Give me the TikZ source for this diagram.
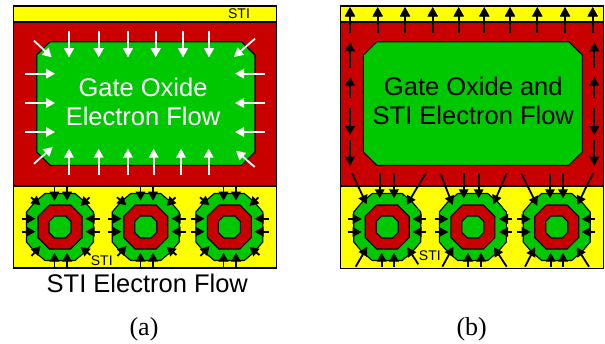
\documentclass[tikz,border=0pt]{standalone}
\usepackage{fontspec}
\setmainfont{Liberation Sans}
\newfontfamily\capfont{Liberation Serif}
\usetikzlibrary{arrows.meta}
\definecolor{GateRed}{HTML}{C80000}
\definecolor{OxideGreen}{HTML}{00C800}
\definecolor{StiYellow}{HTML}{FFFF00}
% one ring cell: green outer, red ring, green core
\newcommand{\ringcell}[2]{
	\begin{scope}[shift={(#1,#2)}]
		\draw[part, fill=OxideGreen] (-15,-33.5) -- (15,-33.5) -- (25,-25) -- (33.5,-15) -- (33.5,15) -- (25,25) -- (15,33.5) -- (-15,33.5) -- (-25,25) -- (-33.5,15) -- (-33.5,-15) -- (-25,-25) -- cycle;
		\draw[part, fill=GateRed] (-10.5,-22) -- (10.5,-22) -- (22,-10.5) -- (22,10.5) -- (10.5,22) -- (-10.5,22) -- (-22,10.5) -- (-22,-10.5) -- cycle;
		\draw[part, fill=OxideGreen] (-5.5,-11) -- (5.5,-11) -- (11,-5.5) -- (11,5.5) -- (5.5,11) -- (-5.5,11) -- (-11,5.5) -- (-11,-5.5) -- cycle;
	\end{scope}
}
% gate area with cut corners
\newcommand{\gatearea}[2]{
	\draw[part, fill=OxideGreen] (#1+13.5,41.7) -- (#2-13.5,41.7) -- (#2,55) -- (#2,152) -- (#2-13.5,165.3) -- (#1+13.5,165.3) -- (#1,152) -- (#1,55) -- cycle;
}
\begin{document}
\begin{tikzpicture}[
		x=1pt, y=-1pt,
		part/.style={draw=black, line width=1.1pt, line join=miter},
		flow/.style={-{Triangle[length=9pt,width=9.5pt]}, line width=1.8pt, draw=black},
		whiteflow/.style={flow, draw=white},
		blackflow/.style={flow},
		sti/.style={font=\fontsize{14}{14}\selectfont, anchor=base, inner sep=0pt},
		bigtext/.style={font=\fontsize{25.5}{29.7}\selectfont, align=center, inner sep=0pt},
		caption/.style={font=\capfont\fontsize{26}{26}\selectfont, anchor=base, inner sep=0pt}
	]
	\useasboundingbox (0,0) rectangle (605,343);
	% panel a
	\draw[part, fill=StiYellow] (13.5,186) rectangle (276.5,268);
	\draw[part, fill=StiYellow] (13.5,6) rectangle (276.5,22);
	\draw[part, fill=GateRed] (13.5,22) rectangle (276.5,186);
	\gatearea{36.7}{255}
	\foreach \cx in {60,145.7,229.3}
		\ringcell{\cx}{227}
	\foreach \px in {69,98.7,128,155.7,183,209}
		\draw[whiteflow] (\px,31) -- (\px,57);
	\foreach \px in {69,98.7,128,153.7,181,208.7}
		\draw[whiteflow] (\px,175) -- (\px,148.7);
	\foreach \py in {73.7,103,132} {
		\draw[whiteflow] (25,\py) -- (55,\py);
		\draw[whiteflow] (265,\py) -- (235,\py);
	}
	\draw[whiteflow] (34,40.7) -- (51.7,57.3);
	\draw[whiteflow] (255,38.7) -- (234,57);
	\draw[whiteflow] (34,163.7) -- (52.7,147);
	\draw[whiteflow] (254.7,167) -- (236,150.7);
	% arrows round the cells of panel a
	\foreach \cx in {60.5,146.5,229.5} {
		\foreach \dx in {-6,6.5} {
			\draw[blackflow] (\cx+\dx,187.3) -- (\cx+\dx,200.7);
			\draw[blackflow] (\cx+\dx,266.7) -- (\cx+\dx,252.7);
		}
		\foreach \py in {218.7,231.7} {
			\draw[blackflow] (\cx-39,\py) -- (\cx-25,\py);
			\draw[blackflow] (\cx+39,\py) -- (\cx+25,\py);
		}
		\draw[blackflow] (\cx-29.5,197.3) -- (\cx-20,205.3);
		\draw[blackflow] (\cx+29,197.3) -- (\cx+20,206);
		\draw[blackflow] (\cx-29,256) -- (\cx-20,246);
		\draw[blackflow] (\cx+30,255) -- (\cx+20,247);
	}
	\node[bigtext, text=white] (gateflow) at (143,102) {Gate Oxide\\Electron Flow};
	\node[sti] (stitop) at (239,18.7) {STI};
	\node[sti] (stilow) at (101.8,265) {STI};
	\node[font=\fontsize{25.5}{25.5}\selectfont, anchor=base, inner sep=0pt] (stiflow) at (147.3,292.7) {STI Electron Flow};
	\node[caption] (capa) at (144,335) {(a)};
	% panel b
	\draw[part, fill=StiYellow] (340.7,186) rectangle (603.3,268.3);
	\draw[part, fill=StiYellow] (340.7,6) rectangle (603.3,22);
	\draw[part, fill=GateRed] (340.7,22) rectangle (603.3,186);
	\gatearea{363.3}{582.3}
	\foreach \cx in {387.2,472.8,556.7}
		\ringcell{\cx}{227}
	\foreach \px in {350,377.7,405,432.7,458.7,484.3,510,537.3,565,592.7}
		\draw[blackflow] (\px,32.7) -- (\px,7.3);
	\foreach \px in {350,594.3} {
		\draw[blackflow] (\px,67.7) -- (\px,42.3);
		\draw[blackflow] (\px,98.3) -- (\px,76.7);
		\draw[blackflow] (\px,108.3) -- (\px,135);
		\draw[blackflow] (\px,140) -- (\px,165.7);
	}
	\foreach \px in {379.7,394,463.7,478.7,550,563}
		\draw[blackflow] (\px,173.3) -- (\px,198.3);
	\foreach \px in {381.7,394,468,481,550.7,563}
		\draw[blackflow] (\px,266.7) -- (\px,252.7);
	\foreach \py in {219,232} {
		\foreach \xa/\xb in {348/361.7,435.3/448.3,517.3/530.7,426/412.7,512/499,595/581.7}
			\draw[blackflow] (\xa,\py) -- (\xb,\py);
	}
	\foreach \xa/\ya/\xb/\yb in {352/173.3/366.7/204.3,425.7/173.3/406.7/205,440.3/173.3/452.7/205,506.7/173.3/493.3/204.3,521.3/173.3/537.3/205.7,593/173.3/577.3/205,355.7/266.7/367.3/246.7,418.3/264.3/407.3/247.3,442.3/266.7/453.3/246.7,506.7/266.7/494/247.3,525/266.7/535/247.3,589/266.7/576.7/247.3}
		\draw[blackflow] (\xa,\ya) -- (\xb,\yb);
	\node[bigtext] (gatesti) at (473.3,101) {Gate Oxide and\\STI Electron Flow};
	\node[sti] (stib) at (429.8,260) {STI};
	\node[caption] (capb) at (471.7,335) {(b)};
\end{tikzpicture}
\end{document}
